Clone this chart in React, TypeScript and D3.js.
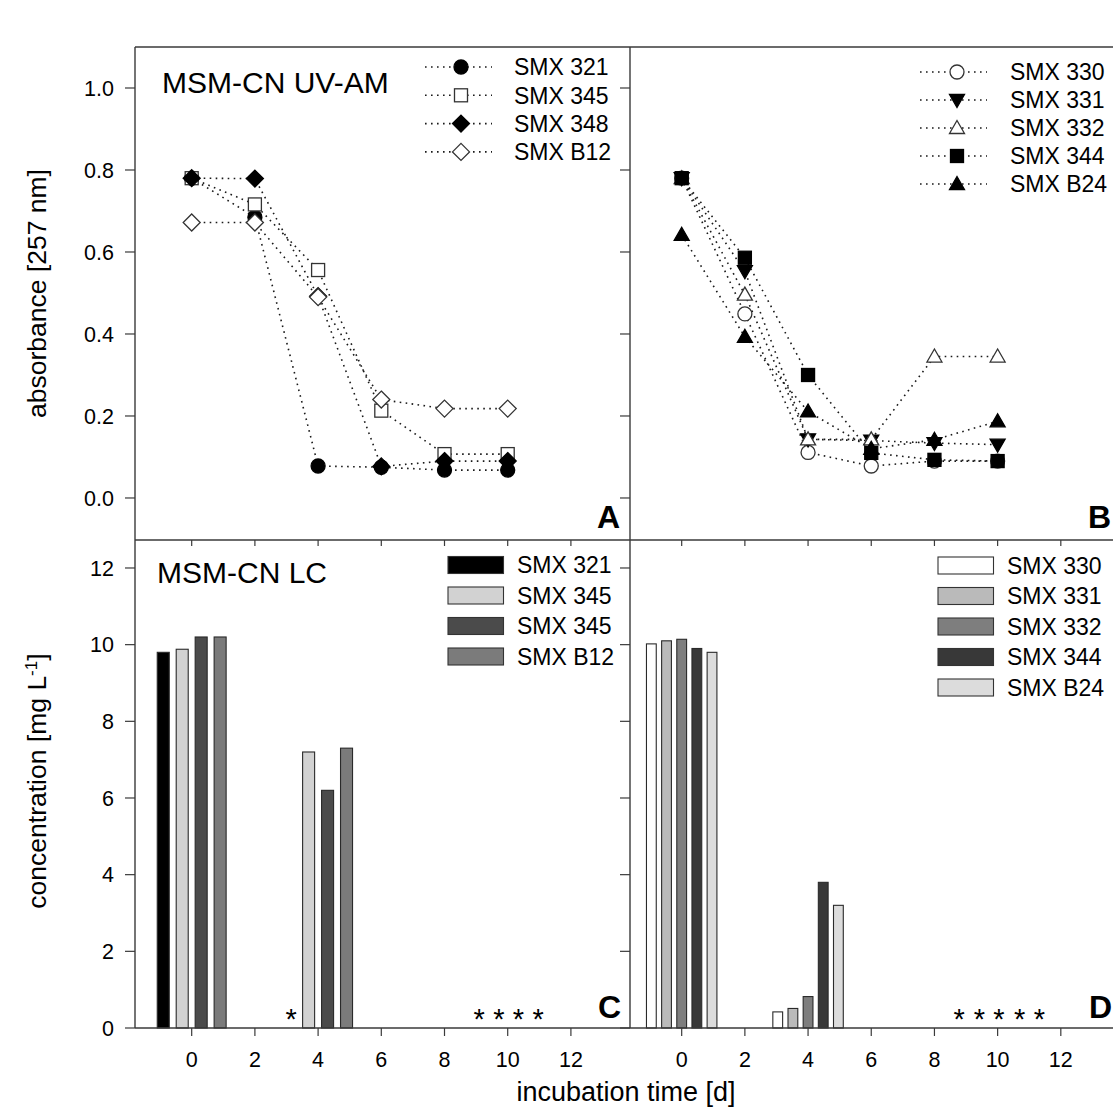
import React from "react";
import * as d3 from "d3";

// ---------- data ----------
const days = [0, 2, 4, 6, 8, 10];

// Panel A (UV-AM absorbance)
const seriesA = ["SMX 321", "SMX 345", "SMX 348", "SMX B12"];
const absA321 = [0.78, 0.685, 0.078, 0.075, 0.068, 0.068];
const absA345 = [0.78, 0.716, 0.556, 0.213, 0.107, 0.107];
const absA348 = [0.78, 0.779, 0.492, 0.077, 0.09, 0.09];
const absAB12 = [0.672, 0.672, 0.49, 0.24, 0.218, 0.218];
const symbolsA = ["circleF", "squareO", "diamondF", "diamondO"];

// Panel B
const seriesB = ["SMX 330", "SMX 331", "SMX 332", "SMX 344", "SMX B24"];
const absB330 = [0.78, 0.449, 0.111, 0.078, 0.09, 0.09];
const absB331 = [0.78, 0.553, 0.143, 0.14, 0.134, 0.13];
const absB332 = [0.78, 0.496, 0.143, 0.143, 0.345, 0.345];
const absB344 = [0.78, 0.586, 0.3, 0.11, 0.093, 0.09];
const absBB24 = [0.642, 0.393, 0.211, 0.12, 0.142, 0.187];
const symbolsB = ["circleO", "triDownF", "triUpO", "squareF", "triUpF"];

// Panel C (LC concentration), bar groups at day 0 and 4
const barDays = [0, 4];
const seriesC = ["SMX 321", "SMX 345", "SMX 345", "SMX B12"];
const concC321 = [9.8, null];
const concC345a = [9.88, 7.2];
const concC345b = [10.2, 6.2];
const concCB12 = [10.2, 7.3];
const fillsC = ["#000000", "#d2d2d2", "#4b4b4b", "#7b7b7b"];
const starsC = [3.15, 9.1, 9.72, 10.34, 10.96];

// Panel D
const seriesD = ["SMX 330", "SMX 331", "SMX 332", "SMX 344", "SMX B24"];
const concD330 = [10.02, 0.42];
const concD331 = [10.1, 0.51];
const concD332 = [10.14, 0.82];
const concD344 = [9.9, 3.8];
const concDB24 = [9.8, 3.2];
const fillsD = ["#ffffff", "#bababa", "#7e7e7e", "#383838", "#dcdcdc"];
const starsD = [8.78, 9.42, 10.04, 10.7, 11.32];

const xTicks = [0, 2, 4, 6, 8, 10, 12];
const yTicksAbs = [0, 0.2, 0.4, 0.6, 0.8, 1.0];
const yTicksConc = [0, 2, 4, 6, 8, 10, 12];

// ---------- layout ----------
const W = 1113;
const H = 1108;
const L = 135, M = 630, R = 1118, T = 47, MID = 540, B = 1028;
const FONT = "'Liberation Sans', Arial, Helvetica, sans-serif";
const FRAME = "#3a3a3a";
const DOT = "#1a1a1a";

const xA = d3.scaleLinear().domain([-1.794, 13.87]).range([L, M]);
const xB = d3.scaleLinear().domain([-1.636, 13.81]).range([M, R]);
const yTop = d3.scaleLinear().domain([-0.1025, 1.1]).range([MID, T]);
const yBot = d3.scaleLinear().domain([0, 12.73]).range([B, MID]);

function Marker({ type, x, y }: { type: string; x: number; y: number }) {
  const filled = type.endsWith("F");
  const fill = filled ? "#000" : "#fff";
  const stroke = filled ? "#000" : "#333";
  const sw = 1.3;
  const shape = type.slice(0, -1);
  if (shape === "circle") return <circle cx={x} cy={y} r={7} fill={fill} stroke={stroke} strokeWidth={sw} />;
  if (shape === "square") return <rect x={x - 6.5} y={y - 6.5} width={13} height={13} fill={fill} stroke={stroke} strokeWidth={sw} />;
  if (shape === "diamond") {
    const s = 8.5;
    return <path d={`M${x},${y - s}L${x + s},${y}L${x},${y + s}L${x - s},${y}Z`} fill={fill} stroke={stroke} strokeWidth={sw} />;
  }
  if (shape === "triUp") {
    return <path d={`M${x},${y - 7.5}L${x + 7.5},${y + 5.5}L${x - 7.5},${y + 5.5}Z`} fill={fill} stroke={stroke} strokeWidth={sw} />;
  }
  if (shape === "triDown") {
    return <path d={`M${x},${y + 7.5}L${x + 7.5},${y - 5.5}L${x - 7.5},${y - 5.5}Z`} fill={fill} stroke={stroke} strokeWidth={sw} />;
  }
  return null;
}

function LinePanel({ x, values, symbols }: { x: d3.ScaleLinear<number, number>; values: number[][]; symbols: string[] }) {
  const line = d3.line<number>().x((_, i) => x(days[i])).y((v) => yTop(v));
  return (
    <g>
      {values.map((vals, si) => (
        <path key={"l" + si} d={line(vals) || ""} fill="none" stroke={DOT} strokeWidth={1.6} strokeDasharray="1.6 4.4" />
      ))}
      {values.map((vals, si) =>
        vals.map((v, i) => <Marker key={"m" + si + "-" + i} type={symbols[si]} x={x(days[i])} y={yTop(v)} />)
      )}
    </g>
  );
}

function LineLegend({ names, symbols, lineX0, lineX1, symX, textX, y0, step }: any) {
  return (
    <g>
      {names.map((n: string, i: number) => {
        const y = y0 + i * step;
        return (
          <g key={i}>
            <line x1={lineX0} x2={lineX1} y1={y} y2={y} stroke={DOT} strokeWidth={1.6} strokeDasharray="1.6 4.4" />
            <Marker type={symbols[i]} x={symX} y={y} />
            <text x={textX} y={y} dy="0.36em" fontSize={23} fontFamily={FONT} fill="#000">{n}</text>
          </g>
        );
      })}
    </g>
  );
}

function BarPanel({ x, values, fills, barW }: any) {
  const n = values.length;
  const slot = 2.4 / n;
  return (
    <g>
      {values.map((vals: (number | null)[], si: number) =>
        vals.map((v, gi) => {
          if (v == null) return null;
          const c = barDays[gi] + (si - (n - 1) / 2) * slot;
          const x0 = x(c - barW / 2);
          const x1 = x(c + barW / 2);
          return (
            <rect key={si + "-" + gi} x={x0} y={yBot(v)} width={x1 - x0} height={yBot(0) - yBot(v)}
              fill={fills[si]} stroke="#2a2a2a" strokeWidth={1.1} />
          );
        })
      )}
    </g>
  );
}

function BarLegend({ names, fills, rectX, textX, y0, step }: any) {
  return (
    <g>
      {names.map((n: string, i: number) => {
        const y = y0 + i * step;
        return (
          <g key={i}>
            <rect x={rectX} y={y - 8.5} width={55.5} height={17} fill={fills[i]} stroke="#333" strokeWidth={1.1} />
            <text x={textX} y={y} dy="0.36em" fontSize={23} fontFamily={FONT} fill="#000">{n}</text>
          </g>
        );
      })}
    </g>
  );
}

function Stars({ x, positions }: any) {
  return (
    <g>
      {positions.map((p: number, i: number) => (
        <text key={i} x={x(p)} y={B + 1} textAnchor="middle" fontSize={29} fontFamily={FONT} fill="#000">*</text>
      ))}
    </g>
  );
}

export default function App() {
  return (
    <svg width={W} height={H} style={{ position: "absolute", left: 0, top: 0, background: "#fff" }}>
      <rect x={0} y={0} width={W} height={H} fill="#fff" />

      {/* data */}
      <LinePanel x={xA} values={[absA321, absA345, absA348, absAB12]} symbols={symbolsA} />
      <LinePanel x={xB} values={[absB330, absB331, absB332, absB344, absBB24]} symbols={symbolsB} />
      <BarPanel x={xA} values={[concC321, concC345a, concC345b, concCB12]} fills={fillsC} barW={0.38} />
      <BarPanel x={xB} values={[concD330, concD331, concD332, concD344, concDB24]} fills={fillsD} barW={0.31} />
      <Stars x={xA} positions={starsC} />
      <Stars x={xB} positions={starsD} />

      {/* frames */}
      <g stroke={FRAME} strokeWidth={1.4} fill="none">
        <line x1={L} x2={R} y1={T} y2={T} />
        <line x1={L} x2={R} y1={MID} y2={MID} />
        <line x1={L} x2={R} y1={B} y2={B} />
        <line x1={L} x2={L} y1={T} y2={B} />
        <line x1={M} x2={M} y1={T} y2={B} />
      </g>

      {/* ticks */}
      <g stroke={FRAME} strokeWidth={1.2}>
        {yTicksAbs.map((t) => (
          <g key={"ya" + t}>
            <line x1={L - 10} x2={L} y1={yTop(t)} y2={yTop(t)} />
            <line x1={M - 10} x2={M} y1={yTop(t)} y2={yTop(t)} />
          </g>
        ))}
        {yTicksConc.map((t) => (
          <g key={"yc" + t}>
            <line x1={L - 10} x2={L} y1={yBot(t)} y2={yBot(t)} />
            <line x1={M - 10} x2={M} y1={yBot(t)} y2={yBot(t)} />
          </g>
        ))}
        {xTicks.map((t) => (
          <g key={"xt" + t}>
            <line x1={xA(t)} x2={xA(t)} y1={B} y2={B + 8} />
            <line x1={xB(t)} x2={xB(t)} y1={B} y2={B + 8} />
            <line x1={xA(t)} x2={xA(t)} y1={MID} y2={MID + 6} />
            <line x1={xB(t)} x2={xB(t)} y1={MID} y2={MID + 6} />
          </g>
        ))}
      </g>

      {/* tick labels */}
      <g fontFamily={FONT} fontSize={21.5} fill="#000">
        {yTicksAbs.map((t) => (
          <text key={"la" + t} x={L - 21} y={yTop(t)} dy="0.36em" textAnchor="end">{d3.format(".1f")(t)}</text>
        ))}
        {yTicksConc.map((t) => (
          <text key={"lc" + t} x={L - 21} y={yBot(t)} dy="0.36em" textAnchor="end">{t}</text>
        ))}
        {xTicks.map((t) => (
          <g key={"lx" + t}>
            <text x={xA(t)} y={1066.5} textAnchor="middle">{t}</text>
            <text x={xB(t)} y={1066.5} textAnchor="middle">{t}</text>
          </g>
        ))}
      </g>

      {/* axis titles */}
      <text transform={`translate(46,${(T + MID) / 2}) rotate(-90)`} textAnchor="middle" fontFamily={FONT} fontSize={26.5} fill="#000">
        absorbance [257 nm]
      </text>
      <text transform={`translate(46,${(MID + B) / 2 - 3}) rotate(-90)`} textAnchor="middle" fontFamily={FONT} fontSize={26.5} fill="#000">
        concentration [mg L<tspan baselineShift="super" fontSize={17}>-1</tspan>]
      </text>
      <text x={626} y={1101} textAnchor="middle" fontFamily={FONT} fontSize={27} fill="#000">incubation time [d]</text>

      {/* panel titles */}
      <text x={162} y={93} fontFamily={FONT} fontSize={30} fill="#000">MSM-CN UV-AM</text>
      <text x={157} y={583} fontFamily={FONT} fontSize={30} fill="#000">MSM-CN LC</text>

      {/* panel letters */}
      <g fontFamily={FONT} fontSize={32} fontWeight="bold" fill="#000" textAnchor="end">
        <text x={620} y={528}>A</text>
        <text x={1111} y={528}>B</text>
        <text x={621} y={1018}>C</text>
        <text x={1112} y={1018}>D</text>
      </g>

      {/* legends */}
      <LineLegend names={seriesA} symbols={symbolsA} lineX0={425} lineX1={492} symX={461} textX={514} y0={67} step={28.3} />
      <LineLegend names={seriesB} symbols={symbolsB} lineX0={920} lineX1={987} symX={957} textX={1010} y0={72} step={28} />
      <BarLegend names={seriesC} fills={fillsC} rectX={448} textX={517} y0={565} step={30.5} />
      <BarLegend names={seriesD} fills={fillsD} rectX={938} textX={1007} y0={565.5} step={30.5} />
    </svg>
  );
}
